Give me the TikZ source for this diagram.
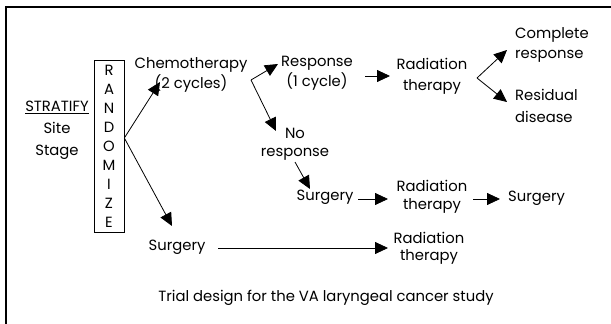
\documentclass[tikz,border=0pt]{standalone}
\usepackage{fontspec}
\setmainfont{Poppins}
\usetikzlibrary{arrows.meta,calc}
\begin{document}
\begin{tikzpicture}[x=1pt,y=-1pt,
  txt/.style={inner sep=0pt, align=center, font=\fontsize{14.8}{20}\selectfont},
  arr/.style={-{Triangle[length=13pt,width=12pt]}, line width=0.8pt},
  frame/.style={line width=1.4pt}]
\useasboundingbox (0,0) rectangle (611,324);
\draw[frame] (6,324) -- (6,7) -- (611,7);

% texts
\node[txt, font=\fontsize{14.8}{22}\selectfont] (strat) at (57,130) {\underline{STRATIFY}\\Site\\Stage};
\node[draw, line width=0.7pt, minimum width=30pt, minimum height=172pt, inner sep=0pt,
      align=center, font=\fontsize{14.8}{19}\selectfont] (rand) at (109,146)
      {R\\A\\N\\D\\O\\M\\I\\Z\\E};
\node[txt] (chemo) at (191,75) {Chemotherapy\\(2 cycles)};
\node[txt] (resp) at (317,73) {Response\\(1 cycle)};
\node[txt, font=\fontsize{14.8}{21}\selectfont] (rad1) at (432,76) {Radiation\\therapy};
\node[txt, align=left, anchor=west] (comp) at (515,45) {Complete\\response};
\node[txt, align=left, anchor=west, font=\fontsize{14.8}{22}\selectfont] (resid) at (515,106) {Residual\\disease};
\node[txt, font=\fontsize{14.8}{18}\selectfont] (nore) at (295,144) {No\\response};
\node[txt] (surg1) at (325,197) {Surgery};
\node[txt, font=\fontsize{14.8}{18}\selectfont] (rad2) at (432,197) {Radiation\\therapy};
\node[txt, anchor=west] (surg2) at (508,198) {Surgery};
\node[txt] (surg3) at (177,247) {Surgery};
\node[txt, font=\fontsize{14.8}{17}\selectfont] (rad3) at (429,248) {Radiation\\therapy};
\node[txt] (cap) at (326,298) {Trial design for the VA laryngeal cancer study};

% connection points
\coordinate (rout) at ($(rand.east)+(0,-8)$);
\coordinate (tchemo) at (160,82);
\coordinate (tsurg3) at (172,226);
\coordinate (v1) at (251,80);
\coordinate (tresp) at (278,64);
\coordinate (tnore) at (276,131);
\coordinate (nout) at (295,162);
\coordinate (tsurg1) at (310,189);
\coordinate (v2) at (477,78);
\coordinate (tcomp) at (507,50);
\coordinate (tresid) at (507,102);
\coordinate (sa) at (358,199);
\coordinate (sb) at (388,199);
\coordinate (ra) at (473,199);
\coordinate (rb) at (500,199);
\coordinate (pa) at (365,76);
\coordinate (pb) at (390,76);
\coordinate (la) at (218,248);
\coordinate (lb) at (388,248);

% connectors
\draw[arr] (rout) -- (tchemo);
\draw[arr] (rout) -- (tsurg3);
\draw[arr] (v1) -- (tresp);
\draw[arr] (v1) -- (tnore);
\draw[arr] (nout) -- (tsurg1);
\draw[arr] (pa) -- (pb);
\draw[arr] (v2) -- (tcomp);
\draw[arr] (v2) -- (tresid);
\draw[arr] (sa) -- (sb);
\draw[arr] (ra) -- (rb);
\draw[arr] (la) -- (lb);
\end{tikzpicture}
\end{document}
